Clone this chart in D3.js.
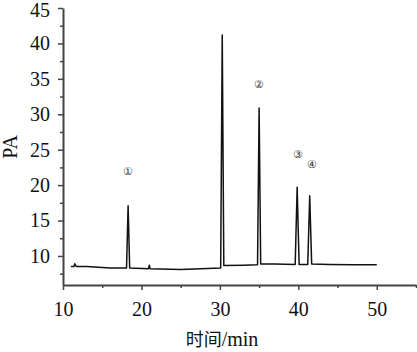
<!DOCTYPE html>
<html>
<head>
<meta charset="utf-8">
<script src="https://cdn.jsdelivr.net/npm/d3@7"></script>
<style>
  html, body { margin: 0; padding: 0; background: #fff; }
  svg text { font-family: "Liberation Serif", "Times New Roman", serif; }
</style>
</head>
<body>
<div id="chart"></div>
<script>
// chromatogram trace (time in min, signal in pA)
const times = [11, 11.4, 11.5, 11.7, 13, 16, 18.1, 18.3, 18.5, 20.9, 21, 21.1, 25, 30.1, 30.3, 30.5,
  33, 34.8, 35, 35.2, 37, 39.6, 39.85, 40.1, 41.2, 41.45, 41.7, 44, 47, 50];
const signal = [8.5, 8.5, 8.9, 8.5, 8.5, 8.3, 8.3, 17.1, 8.3, 8.2, 8.7, 8.2, 8.1, 8.3, 41.2, 8.65,
  8.7, 8.75, 30.9, 8.85, 8.85, 8.8, 19.7, 8.8, 8.8, 18.5, 8.85, 8.8, 8.75, 8.75];

// peak markers
const peakLabels = ['①', '②', '③', '④'];
const peakX = [18.3, 35.0, 39.9, 41.7];
const peakY = [22, 34.2, 24.4, 22.9];

const xTicks = [10, 20, 30, 40, 50];
const xMinor = [15, 25, 35, 45, 55];
const yTicks = [10, 15, 20, 25, 30, 35, 40, 45];
const yMinor = [7.5, 12.5, 17.5, 22.5, 27.5, 32.5, 37.5, 42.5];

const width = 417, height = 352;
const margin = { top: 8, right: 1, bottom: 67, left: 63 };
const W = width - margin.left - margin.right;
const H = height - margin.top - margin.bottom;

const x = d3.scaleLinear().domain([10, 55]).range([0, W]);
const y = d3.scaleLinear().domain([5.9, 45]).range([H, 0]);

const svg = d3.select('#chart').append('svg')
  .attr('width', width).attr('height', height);
const g = svg.append('g').attr('transform', `translate(${margin.left},${margin.top})`);

const axisColor = '#444';

// minor ticks
g.append('g').attr('transform', `translate(0,${H})`)
  .call(d3.axisBottom(x).tickValues(xMinor).tickSize(3).tickFormat(''))
  .call(ax => ax.select('.domain').remove())
  .selectAll('line').attr('stroke', axisColor).attr('stroke-width', 1.5);
g.append('g')
  .call(d3.axisLeft(y).tickValues(yMinor).tickSize(3).tickFormat(''))
  .call(ax => ax.select('.domain').remove())
  .selectAll('line').attr('stroke', axisColor).attr('stroke-width', 1.5);

// major axes
const xAx = g.append('g').attr('transform', `translate(0,${H})`)
  .call(d3.axisBottom(x).tickValues(xTicks).tickSize(5).tickSizeOuter(0).tickPadding(12));
const yAx = g.append('g')
  .call(d3.axisLeft(y).tickValues(yTicks).tickSize(5).tickSizeOuter(0).tickPadding(8));
[xAx, yAx].forEach(ax => {
  ax.select('.domain').attr('stroke', axisColor).attr('stroke-width', 2);
  ax.selectAll('line').attr('stroke', axisColor).attr('stroke-width', 1.5);
  ax.selectAll('text').attr('font-size', '20px').attr('fill', '#111')
    .attr('font-family', '"Liberation Serif", serif');
});
// keep the top label inside the frame
yAx.selectAll('.tick').filter(d => d === 45).select('text').attr('dy', '0.4em');

// trace
const pts = times.map((t, i) => [t, signal[i]]);
g.append('path').datum(pts)
  .attr('fill', 'none').attr('stroke', '#111').attr('stroke-width', 1.5)
  .attr('stroke-linejoin', 'round')
  .attr('d', d3.line().x(d => x(d[0])).y(d => y(d[1])));

// peak numbers
g.selectAll('.pk').data(peakLabels).join('text')
  .attr('class', 'pk')
  .attr('x', (d, i) => x(peakX[i])).attr('y', (d, i) => y(peakY[i]))
  .attr('text-anchor', 'middle').attr('dy', '0.35em')
  .attr('font-size', '11px').attr('fill', '#333')
  .attr('font-family', '"Noto Sans CJK SC", sans-serif')
  .text(d => d);

// axis titles
svg.append('text')
  .attr('transform', `translate(17,${147}) rotate(-90)`)
  .attr('text-anchor', 'middle').attr('font-size', '20px').attr('fill', '#111')
  .text('PA');

const xt = svg.append('text')
  .attr('x', 222).attr('y', 346)
  .attr('text-anchor', 'middle').attr('font-size', '20px').attr('fill', '#111');
xt.append('tspan').attr('font-family', '"Noto Sans CJK SC", sans-serif').attr('font-size', '18px').text('时间');
xt.append('tspan').text('/min');
</script>
</body>
</html>
